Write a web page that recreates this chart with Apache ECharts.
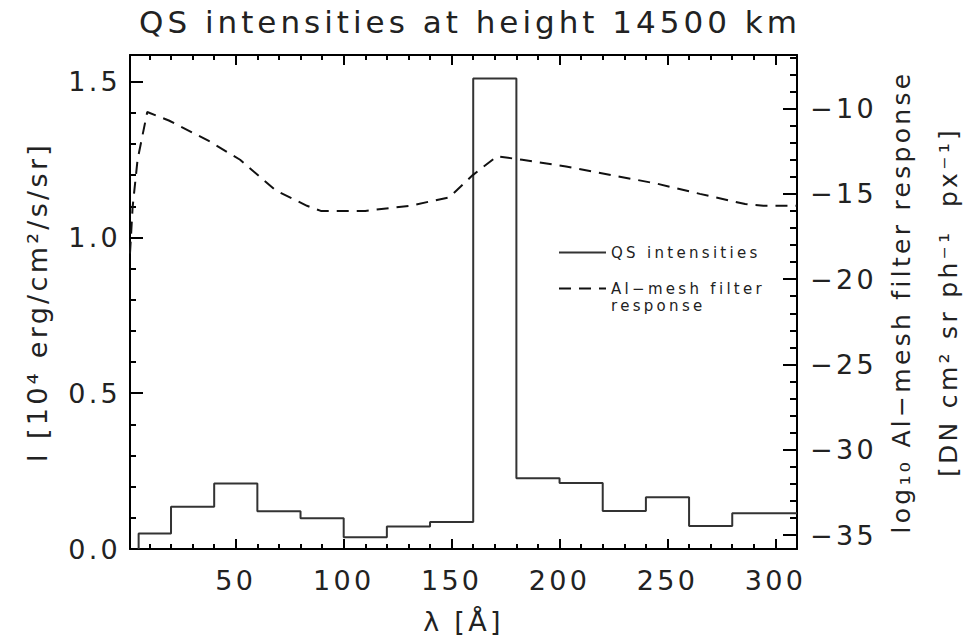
<!DOCTYPE html>
<html>
<head>
<meta charset="utf-8">
<title>QS intensities</title>
<script src="https://cdn.jsdelivr.net/npm/echarts@6/dist/echarts.min.js"></script>
<style>
  html, body { margin: 0; padding: 0; background: #fff; }
  #chart { width: 973px; height: 641px; }
  /* the IDL font is spaced wide */
  #chart svg text { letter-spacing: 3.3px; }
  #chart svg text[style*="31px"] { letter-spacing: 4px; }
</style>
</head>
<body>
<div id="chart"></div>
<script>
// QS intensities, step histogram (bin edges in Å)
const binEdges = [5, 20, 40, 60, 80, 100, 120, 140, 160, 180, 200, 220, 240, 260, 280, 310];
const qsIntensity = [0.05, 0.136, 0.21, 0.121, 0.099, 0.038, 0.072, 0.087, 1.51, 0.227, 0.212, 0.122, 0.166, 0.074, 0.115];

// Al-mesh filter response (log10)
const respLambda = [1, 2.2, 4.5, 9, 19, 37.5, 52, 68.5, 83, 89.4, 110, 130.7, 149, 159.8, 171, 182.7, 203, 224, 245, 265, 286, 294.4, 310];
const respLog = [-18.5, -15.8, -13.0, -10.2, -10.7, -11.9, -13.0, -14.8, -15.7, -16.0, -16.0, -15.7, -15.2, -13.9, -12.8, -13.0, -13.4, -13.9, -14.4, -15.0, -15.6, -15.7, -15.7];

// ticks
const xMajor = [50, 100, 150, 200, 250, 300];
const xMinor = [10, 20, 30, 40, 60, 70, 80, 90, 110, 120, 130, 140, 160, 170, 180, 190, 210, 220, 230, 240, 260, 270, 280, 290];
const leftMajor = [0, 0.5, 1.0, 1.5];
const leftMinor = [0.1, 0.2, 0.3, 0.4, 0.6, 0.7, 0.8, 0.9, 1.1, 1.2, 1.3, 1.4];
const rightMajor = [-35, -30, -25, -20, -15, -10];
const rightMinor = [-34, -33, -32, -31, -29, -28, -27, -26, -24, -23, -22, -21, -19, -18, -17, -16, -14, -13, -12, -11, -9, -8, -7];

const FONT = 'DejaVu Sans';
const INK = '#222';

const stepData = [[binEdges[0], 0]];
qsIntensity.forEach((v, i) => stepData.push([binEdges[i], v]));
stepData.push([binEdges[binEdges.length - 1], qsIntensity[qsIntensity.length - 1]]);
const respData = respLambda.map((x, i) => [x, respLog[i]]);

const line = { show: true, lineStyle: { color: '#000', width: 2 } };
const noLine = { show: false };

function xAxis(pos, ticks, len, withLabels) {
  return {
    type: 'value', position: pos, min: 1, max: 310,
    axisLine: withLabels !== null ? line : noLine,
    splitLine: { show: false },
    axisTick: { show: true, inside: true, length: len, customValues: ticks, lineStyle: { color: '#000', width: 2 } },
    axisLabel: withLabels ? {
      show: true, customValues: ticks, margin: 18, fontSize: 27, fontFamily: FONT, color: INK
    } : { show: false }
  };
}

function yAxis(pos, min, max, ticks, len, extra) {
  return Object.assign({
    type: 'value', position: pos, min: min, max: max,
    axisLine: noLine,
    splitLine: { show: false },
    axisTick: { show: true, inside: true, length: len, customValues: ticks, lineStyle: { color: '#000', width: 2 } },
    axisLabel: { show: false }
  }, extra || {});
}

const legendBase = {
  orient: 'vertical', itemWidth: 47, itemHeight: 12, padding: 0,
  itemStyle: { opacity: 0 }
};

const option = {
  animation: false,
  backgroundColor: '#fff',
  title: {
    text: 'QS intensities at height 14500 km',
    left: 470, top: 6, textAlign: 'center', padding: 0,
    textStyle: { fontSize: 31, fontWeight: 'normal', fontFamily: FONT, color: INK }
  },
  grid: { left: 130, right: 176, top: 55, bottom: 92, containLabel: false, outerBoundsMode: 'none' },
  legend: [
    Object.assign({}, legendBase, {
      data: ['QS intensities'], left: 558, top: 244,
      textStyle: { fontSize: 15, fontFamily: FONT, color: INK, lineHeight: 17 }
    }),
    Object.assign({}, legendBase, {
      data: ['Al\u2212mesh filter response'], left: 558, top: 263,
      formatter: () => '\nAl\u2212mesh filter\nresponse',
      textStyle: { fontSize: 15, fontFamily: FONT, color: INK, lineHeight: 17 }
    })
  ],
  xAxis: [
    Object.assign(xAxis('bottom', xMajor, 10, true), {
      name: '\u03bb [\u00c5]', nameLocation: 'middle', nameGap: 59,
      nameTextStyle: { fontSize: 27, fontFamily: FONT, color: INK }
    }),
    xAxis('bottom', xMinor, 5, null),
    xAxis('top', xMajor, 10, false),
    xAxis('top', xMinor, 5, null)
  ],
  yAxis: [
    yAxis('left', 0, 1.5855, leftMajor, 13, {
      axisLine: line,
      axisLabel: {
        show: true, customValues: leftMajor, margin: 9, fontSize: 27, fontFamily: FONT, color: INK,
        formatter: v => v.toFixed(1)
      },
      name: 'I [10\u2074 erg/cm\u00b2/s/sr]', nameLocation: 'middle', nameGap: 79,
      nameTextStyle: { fontSize: 27, fontFamily: FONT, color: INK }
    }),
    yAxis('left', 0, 1.5855, leftMinor, 6),
    yAxis('right', -35.82, -6.86, rightMajor, 14, {
      axisLine: line,
      axisLabel: {
        show: true, customValues: rightMajor, margin: 13, fontSize: 27, fontFamily: FONT, color: INK,
        formatter: v => (v < 0 ? '\u2212' : '') + Math.abs(v)
      },
      name: 'log\u2081\u2080 Al\u2212mesh filter response\n[DN cm\u00b2 sr ph\u207b\u00b9  px\u207b\u00b9]',
      nameLocation: 'middle', nameGap: 72,
      nameTextStyle: { fontSize: 25, fontFamily: FONT, color: INK, lineHeight: 47 }
    }),
    yAxis('right', -35.82, -6.86, rightMinor, 7)
  ],
  series: [
    {
      name: 'QS intensities', type: 'line', step: 'end',
      xAxisIndex: 0, yAxisIndex: 0, symbol: 'none',
      lineStyle: { color: '#333', width: 2 },
      itemStyle: { color: '#333' },
      data: stepData
    },
    {
      name: 'Al\u2212mesh filter response', type: 'line',
      xAxisIndex: 0, yAxisIndex: 2, symbol: 'none',
      lineStyle: { color: '#111', width: 2, type: [12, 8] },
      itemStyle: { color: '#111' },
      data: respData
    }
  ]
};

const chart = echarts.init(document.getElementById('chart'), null, { renderer: 'svg' });
chart.setOption(option);
</script>
</body>
</html>
